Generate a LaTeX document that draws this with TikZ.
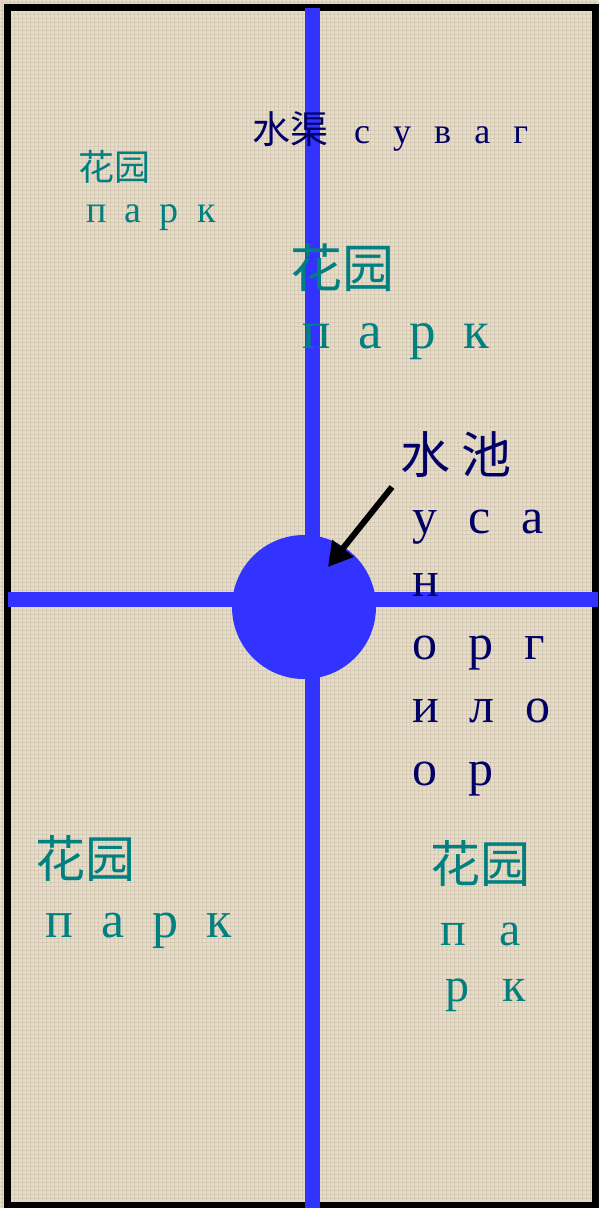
\documentclass[tikz,border=0pt]{standalone}
\usepackage{fontspec}
\setmainfont{Liberation Serif}
\newfontfamily\cyr{Liberation Serif}
\newfontfamily\cjk{Noto Sans CJK SC}
\usetikzlibrary{arrows.meta, positioning}
\definecolor{canvas}{RGB}{230,220,200}
\definecolor{weave}{RGB}{190,178,155}
\definecolor{canalblue}{RGB}{51,51,255}
\definecolor{parkteal}{RGB}{0,128,128}
\definecolor{waternavy}{RGB}{0,0,102}
\tikzset{
  canal/.style={line width=15pt, color=canalblue},
  pondnode/.style={circle, fill=canalblue, minimum size=144pt, inner sep=0pt},
  lbl/.style={anchor=base west, inner sep=0pt},
  parktxt/.style={lbl, text=parkteal},
  watertxt/.style={lbl, text=waternavy},
  pointer/.style={-{Triangle[length=24pt,width=26pt]}, line width=6pt, color=black}
}

\begin{document}
\begin{tikzpicture}[x=1pt, y=-1pt]
  \useasboundingbox (0,0) rectangle (598,1208);
  \fill[canvas] (0,0) rectangle (598,1208);
  % canvas weave
  \foreach \k in {2,6,...,1206}
    \draw[weave, line width=0.5pt, opacity=0.35] (0,\k) -- (598,\k);
  \foreach \k in {2,6,...,598}
    \draw[weave, line width=0.5pt, opacity=0.35] (\k,0) -- (\k,1208);
  \draw[line width=7pt] (7.5,7.5) rectangle (595,1205);

  % canals
  \coordinate (cn) at (312,8);
  \coordinate (cs) at (312,1208);
  \coordinate (cw) at (8,599);
  \coordinate (ce) at (598,599);
  \draw[canal] (cn) -- (cs);
  \draw[canal] (cw) -- (ce);
  \node[pondnode] (pool) at (304,607) {};

  % labels
  \node[watertxt] (canallbl) at (252,143)
    {{\cjk\fontsize{38}{40}\selectfont 水渠}\hspace{26pt}{\cyr\fontsize{36}{40}\selectfont\spaceskip=0.64em с у в а г}};
  \node[parktxt] (nwpark) at (78,180) {\cjk\fontsize{36}{40}\selectfont 花园};
  \node[parktxt] (nwparkru) at (86,222) {\cyr\fontsize{38}{40}\selectfont\spaceskip=0.48em п а р к};
  \node[parktxt] (npark) at (290,287) {\cjk\fontsize{52}{56}\selectfont 花园};
  \node[parktxt] (nparkru) at (302,348) {\cyr\fontsize{53}{56}\selectfont\spaceskip=0.52em п а р к};
  \node[watertxt] (poollbl) at (400,473) {\cjk\fontsize{50}{54}\selectfont 水 池};
  \node[watertxt, anchor=north west, align=left, font={\cyr\fontsize{50}{63}\selectfont\spaceskip=0.62em}] (poolru) at (412,510)
    {у с а\\н\\о р г\\и л о\\о р};
  \node[parktxt] (swpark) at (35,877) {\cjk\fontsize{50}{54}\selectfont 花园};
  \node[parktxt] (swparkru) at (45,937) {\cyr\fontsize{52}{56}\selectfont\spaceskip=0.54em п а р к};
  \node[parktxt] (separk) at (430,882) {\cjk\fontsize{50}{54}\selectfont 花园};
  \node[parktxt, anchor=north west, align=left, font={\cyr\fontsize{48}{56}\selectfont\spaceskip=0.7em}] (separkru) at (440,923)
    {п а\\\hspace{5pt}р к};

  % pointer to the pool
  \coordinate (ptail) at (392,487);
  \coordinate (ptip) at (328,567);
  \draw[pointer] (ptail) -- (ptip);
\end{tikzpicture}
\end{document}
